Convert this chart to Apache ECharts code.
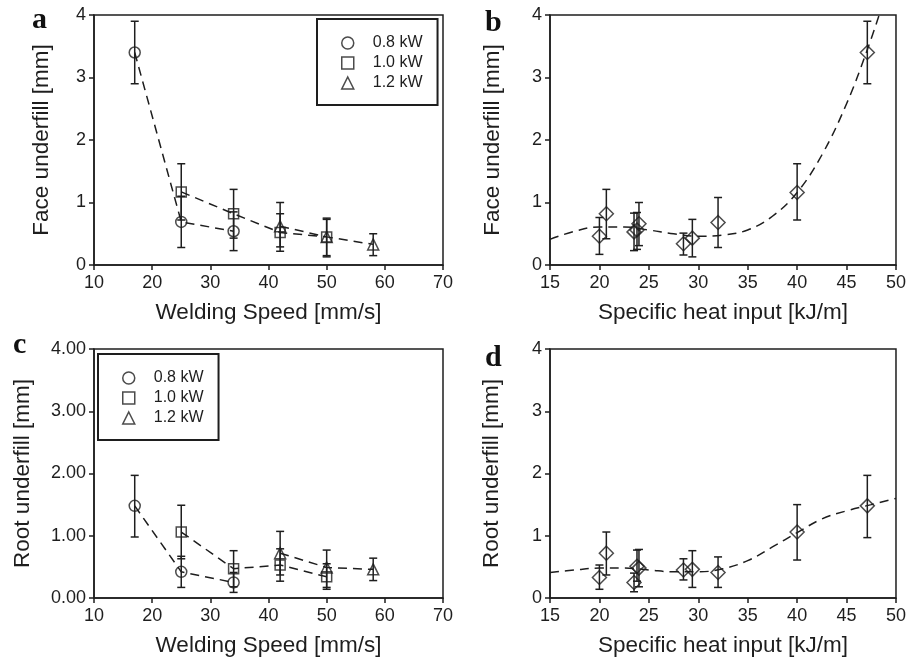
<!DOCTYPE html>
<html>
<head>
<meta charset="utf-8">
<script src="https://cdn.jsdelivr.net/npm/echarts@6/dist/echarts.min.js"></script>
<style>
  html, body { margin: 0; padding: 0; background: #fff; }
  #chart { width: 909px; height: 661px; }
</style>
</head>
<body>
<div id="chart"></div>
<script>
// ---- panel a / c: underfill vs welding speed, per laser power ----
const speed08 = [17, 25, 34];
const speed10 = [25, 34, 42, 50];
const speed12 = [42, 50, 58];

const face08 = [3.40, 0.69, 0.54];
const face08Lo = [2.90, 0.28, 0.23];
const face08Hi = [3.90, 1.10, 0.85];
const face10 = [1.17, 0.82, 0.52, 0.45];
const face10Lo = [0.72, 0.43, 0.22, 0.15];
const face10Hi = [1.62, 1.21, 0.82, 0.75];
const face12 = [0.62, 0.45, 0.33];
const face12Lo = [0.29, 0.13, 0.15];
const face12Hi = [1.00, 0.73, 0.50];

const root08 = [1.48, 0.42, 0.25];
const root08Lo = [0.98, 0.17, 0.09];
const root08Hi = [1.97, 0.67, 0.41];
const root10 = [1.06, 0.47, 0.53, 0.34];
const root10Lo = [0.63, 0.18, 0.27, 0.14];
const root10Hi = [1.49, 0.76, 0.79, 0.55];
const root12 = [0.72, 0.49, 0.46];
const root12Lo = [0.37, 0.17, 0.28];
const root12Hi = [1.07, 0.77, 0.64];

// ---- panel b / d: underfill vs specific heat input ----
const heat = [20, 20.7, 23.5, 23.8, 24.0, 28.5, 29.4, 32, 40, 47.1];
const faceHeat = [0.46, 0.82, 0.53, 0.56, 0.66, 0.34, 0.43, 0.68, 1.16, 3.40];
const faceHeatLo = [0.17, 0.42, 0.23, 0.25, 0.31, 0.16, 0.13, 0.28, 0.72, 2.90];
const faceHeatHi = [0.76, 1.21, 0.83, 0.84, 1.00, 0.51, 0.73, 1.08, 1.62, 3.90];
const rootHeat = [0.33, 0.72, 0.25, 0.51, 0.48, 0.45, 0.46, 0.41, 1.06, 1.48];
const rootHeatLo = [0.14, 0.37, 0.10, 0.27, 0.18, 0.29, 0.17, 0.17, 0.61, 0.97];
const rootHeatHi = [0.53, 1.06, 0.40, 0.77, 0.78, 0.63, 0.76, 0.66, 1.50, 1.97];

// fitted trend curves
const fitFaceX = [15, 17.5, 20, 22.5, 25, 27.5, 30, 32.5, 35, 37.5, 40, 42.5, 45, 47, 48.4];
const fitFaceY = [0.41, 0.54, 0.61, 0.61, 0.56, 0.50, 0.46, 0.48, 0.56, 0.78, 1.16, 1.76, 2.58, 3.40, 4.05];
const fitRootX = [15, 17.5, 20, 22.5, 25, 27.5, 30, 32.5, 35, 37.5, 40, 42.5, 45, 47.5, 50];
const fitRootY = [0.41, 0.45, 0.48, 0.48, 0.45, 0.42, 0.42, 0.47, 0.60, 0.82, 1.05, 1.27, 1.40, 1.50, 1.60];

const powerNames = ['0.8 kW', '1.0 kW', '1.2 kW'];

const INK = '#1e1e1e';
const SANS = '"Liberation Sans", Arial, sans-serif';
const SERIF = '"Liberation Serif", "Times New Roman", serif';

const chart = echarts.init(document.getElementById('chart'), null, { renderer: 'canvas' });

function zip(xs, ys) { return xs.map((x, i) => [x, ys[i]]); }
function zip3(xs, lo, hi) { return xs.map((x, i) => [x, lo[i], hi[i]]); }

function errRender(params, api) {
  const x = api.value(0);
  const a = api.coord([x, api.value(1)]);
  const b = api.coord([x, api.value(2)]);
  const w = 4;
  const st = { stroke: INK, lineWidth: 1.5 };
  return {
    type: 'group',
    children: [
      { type: 'line', shape: { x1: a[0], y1: a[1], x2: b[0], y2: b[1] }, style: st },
      { type: 'line', shape: { x1: a[0] - w, y1: a[1], x2: a[0] + w, y2: a[1] }, style: st },
      { type: 'line', shape: { x1: b[0] - w, y1: b[1], x2: b[0] + w, y2: b[1] }, style: st }
    ]
  };
}

function errSeries(g, data) {
  return {
    type: 'custom', xAxisIndex: g, yAxisIndex: g, renderItem: errRender,
    encode: { x: 0, y: [1, 2] }, data: data, z: 2, silent: true
  };
}
function dashLine(g, data, smooth) {
  return {
    type: 'line', xAxisIndex: g, yAxisIndex: g, data: data, showSymbol: false,
    smooth: smooth ? 0.4 : false, z: 3, silent: true,
    lineStyle: { color: INK, width: 1.5, type: [9, 6] }
  };
}
function marks(g, name, symbol, size, data) {
  return {
    type: 'scatter', name: name, xAxisIndex: g, yAxisIndex: g, data: data,
    symbol: symbol, symbolSize: size, z: 4,
    itemStyle: { color: 'transparent', borderColor: INK, borderWidth: 1.5 }
  };
}

const grids = [
  { left: 94, top: 15, width: 349, height: 250 },
  { left: 550, top: 15, width: 348, height: 250 },
  { left: 94, top: 349, width: 349, height: 249 },
  { left: 550, top: 349, width: 348, height: 249 }
].map(g => Object.assign(g, { show: true, borderColor: INK, borderWidth: 1.5, backgroundColor: 'transparent' }));

const axisCommon = {
  type: 'value',
  splitLine: { show: false },
  axisLine: { show: true, onZero: false, lineStyle: { color: INK, width: 1.5 } },
  axisTick: { show: true, inside: false, length: 5, lineStyle: { color: INK, width: 1.5 } },
  nameLocation: 'middle',
  nameTextStyle: { fontFamily: SANS, fontSize: 22.5, color: INK },
  axisLabel: { fontFamily: SANS, fontSize: 18, color: INK, margin: 8 }
};

function xAx(g, min, max, step, name) {
  return Object.assign({}, axisCommon, {
    gridIndex: g, min: min, max: max, interval: step, name: name, nameGap: 36,
    axisLabel: Object.assign({}, axisCommon.axisLabel, { margin: 9 })
  });
}
function yAx(g, name, gap, fmt) {
  const ax = Object.assign({}, axisCommon, { gridIndex: g, min: 0, max: 4, interval: 1, name: name, nameGap: gap });
  if (fmt) ax.axisLabel = Object.assign({}, axisCommon.axisLabel, { formatter: v => v.toFixed(2) });
  return ax;
}

function legendAt(left, top) {
  return {
    data: powerNames, orient: 'vertical', left: left, top: top,
    itemWidth: 12, itemHeight: 12, itemGap: 4,
    padding: [16, 15, 14, 24],
    borderColor: INK, borderWidth: 2,
    selectedMode: false,
    itemStyle: { color: 'transparent', borderColor: INK, borderWidth: 1.5 },
    textStyle: { fontFamily: SANS, fontSize: 16, color: INK, padding: [0, 0, 0, 14] }
  };
}

function letter(t, x, y) {
  return {
    type: 'text', x: x, y: y,
    style: { text: t, font: 'bold 30px ' + SERIF, fill: '#111', verticalAlign: 'middle' }
  };
}

const option = {
  backgroundColor: '#fff',
  animation: false,
  grid: grids,
  xAxis: [
    xAx(0, 10, 70, 10, 'Welding Speed [mm/s]'),
    xAx(1, 15, 50, 5, 'Specific heat input [kJ/m]'),
    xAx(2, 10, 70, 10, 'Welding Speed [mm/s]'),
    xAx(3, 15, 50, 5, 'Specific heat input [kJ/m]')
  ],
  yAxis: [
    yAx(0, 'Face underfill [mm]', 41),
    yAx(1, 'Face underfill [mm]', 46),
    yAx(2, 'Root underfill [mm]', 60, true),
    yAx(3, 'Root underfill [mm]', 47)
  ],
  legend: [legendAt(317, 19), legendAt(98, 354)],
  graphic: [
    letter('a', 32, 20),
    letter('b', 485, 23),
    letter('c', 13, 345),
    letter('d', 485, 358)
  ],
  series: [
    // panel a
    errSeries(0, zip3(speed08, face08Lo, face08Hi)),
    errSeries(0, zip3(speed10, face10Lo, face10Hi)),
    errSeries(0, zip3(speed12, face12Lo, face12Hi)),
    dashLine(0, zip(speed08, face08)),
    dashLine(0, zip(speed10, face10)),
    dashLine(0, zip(speed12, face12)),
    marks(0, powerNames[0], 'circle', 11, zip(speed08, face08)),
    marks(0, powerNames[1], 'rect', 10, zip(speed10, face10)),
    marks(0, powerNames[2], 'triangle', [11, 11], zip(speed12, face12)),
    // panel b
    errSeries(1, zip3(heat, faceHeatLo, faceHeatHi)),
    dashLine(1, zip(fitFaceX, fitFaceY), true),
    marks(1, 'face', 'diamond', [14, 14], zip(heat, faceHeat)),
    // panel c
    errSeries(2, zip3(speed08, root08Lo, root08Hi)),
    errSeries(2, zip3(speed10, root10Lo, root10Hi)),
    errSeries(2, zip3(speed12, root12Lo, root12Hi)),
    dashLine(2, zip(speed08, root08)),
    dashLine(2, zip(speed10, root10)),
    dashLine(2, zip(speed12, root12)),
    marks(2, powerNames[0], 'circle', 11, zip(speed08, root08)),
    marks(2, powerNames[1], 'rect', 10, zip(speed10, root10)),
    marks(2, powerNames[2], 'triangle', [11, 11], zip(speed12, root12)),
    // panel d
    errSeries(3, zip3(heat, rootHeatLo, rootHeatHi)),
    dashLine(3, zip(fitRootX, fitRootY), true),
    marks(3, 'root', 'diamond', [14, 14], zip(heat, rootHeat))
  ]
};

chart.setOption(option);
</script>
</body>
</html>
